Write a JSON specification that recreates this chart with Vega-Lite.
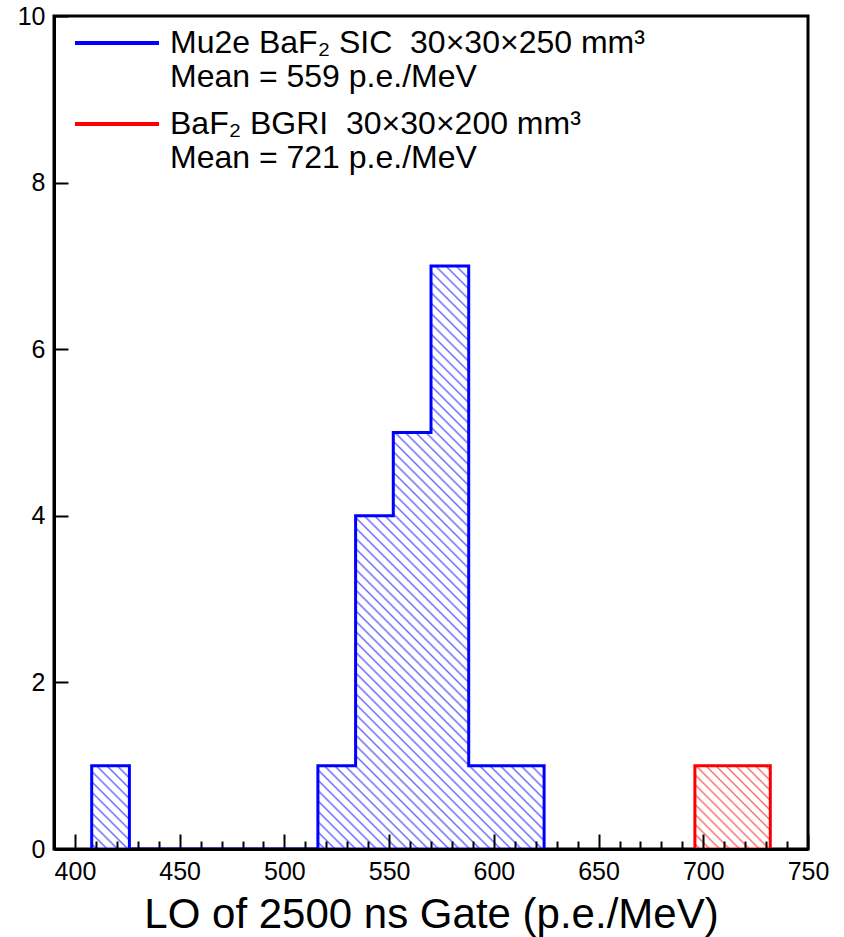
{
  "$schema": "https://vega.github.io/schema/vega-lite/v6.json",
  "width": 754,
  "height": 833,
  "autosize": {"type": "none"},
  "padding": {"left": 54, "top": 16, "right": 36, "bottom": 88},
  "background": "white",
  "config": {
    "font": "Liberation Sans",
    "view": {"stroke": "black", "strokeWidth": 3}
  },
  "data": {
    "values": [
      {"series": "Mu2e", "lo": 408, "hi": 426, "count": 1},
      {"series": "Mu2e", "lo": 426, "hi": 444, "count": 0},
      {"series": "Mu2e", "lo": 444, "hi": 462, "count": 0},
      {"series": "Mu2e", "lo": 462, "hi": 480, "count": 0},
      {"series": "Mu2e", "lo": 480, "hi": 498, "count": 0},
      {"series": "Mu2e", "lo": 498, "hi": 516, "count": 0},
      {"series": "Mu2e", "lo": 516, "hi": 534, "count": 1},
      {"series": "Mu2e", "lo": 534, "hi": 552, "count": 4},
      {"series": "Mu2e", "lo": 552, "hi": 570, "count": 5},
      {"series": "Mu2e", "lo": 570, "hi": 588, "count": 7},
      {"series": "Mu2e", "lo": 588, "hi": 606, "count": 1},
      {"series": "Mu2e", "lo": 606, "hi": 624, "count": 1},
      {"series": "BGRI", "lo": 696, "hi": 714, "count": 1},
      {"series": "BGRI", "lo": 714, "hi": 732, "count": 1}
    ]
  },
  "transform": [{"fold": ["lo", "hi"], "as": ["edge", "pos"]}],
  "encoding": {
    "y": {
      "field": "count", "type": "quantitative", "stack": null,
      "scale": {"domain": [0, 10], "nice": false, "zero": true},
      "axis": {
        "values": [0, 2, 4, 6, 8, 10], "tickSize": -14, "tickWidth": 2, "tickColor": "black",
        "labelFontSize": 25, "labelPadding": 23, "labelColor": "black", "labelFlush": false, "labelOverlap": false,
        "title": null, "grid": false, "domain": true, "domainWidth": 3, "domainColor": "black", "zindex": 1
      }
    },
    "stroke": {
      "field": "series", "type": "nominal",
      "scale": {"domain": ["Mu2e", "BGRI"], "range": ["#0000ff", "#ff0000"]},
      "legend": {
        "orient": "none", "legendX": 40, "legendY": 4, "title": null, "padding": 0,
        "symbolType": "M-2,0H2", "symbolSize": 1764, "symbolStrokeWidth": 4,
        "labelFontSize": 32, "labelOffset": 30, "labelLimit": 800, "rowPadding": 8, "labelColor": "black",
        "labelExpr": "datum.label == 'Mu2e' ? ['Mu2e BaF₂ SIC\u00a0 30×30×250 mm³', 'Mean = 559 p.e./MeV'] : ['BaF₂ BGRI\u00a0 30×30×200 mm³', 'Mean = 721 p.e./MeV']"
      }
    },
    "order": {"value": null}
  },
  "layer": [
    {
      "transform": [{"filter": "datum.series == 'Mu2e'"}],
      "mark": {
        "type": "area", "strokeWidth": 3, "strokeJoin": "miter", "interpolate": "linear",
        "fill": {
          "gradient": "linear", "x1": 0, "y1": 1, "x2": 0.8601, "y2": -0.1086,
          "stops": [
            {"offset":0.003,"color":"#fff"},{"offset":0.005,"color":"#6a6aff"},{"offset":0.007,"color":"#fff"},
            {"offset":0.013,"color":"#fff"},{"offset":0.015,"color":"#6a6aff"},{"offset":0.017,"color":"#fff"},
            {"offset":0.023,"color":"#fff"},{"offset":0.025,"color":"#6a6aff"},{"offset":0.027,"color":"#fff"},
            {"offset":0.033,"color":"#fff"},{"offset":0.035,"color":"#6a6aff"},{"offset":0.037,"color":"#fff"},
            {"offset":0.043,"color":"#fff"},{"offset":0.045,"color":"#6a6aff"},{"offset":0.047,"color":"#fff"},
            {"offset":0.053,"color":"#fff"},{"offset":0.055,"color":"#6a6aff"},{"offset":0.057,"color":"#fff"},
            {"offset":0.063,"color":"#fff"},{"offset":0.065,"color":"#6a6aff"},{"offset":0.067,"color":"#fff"},
            {"offset":0.073,"color":"#fff"},{"offset":0.075,"color":"#6a6aff"},{"offset":0.077,"color":"#fff"},
            {"offset":0.083,"color":"#fff"},{"offset":0.085,"color":"#6a6aff"},{"offset":0.087,"color":"#fff"},
            {"offset":0.093,"color":"#fff"},{"offset":0.095,"color":"#6a6aff"},{"offset":0.097,"color":"#fff"},
            {"offset":0.103,"color":"#fff"},{"offset":0.105,"color":"#6a6aff"},{"offset":0.107,"color":"#fff"},
            {"offset":0.113,"color":"#fff"},{"offset":0.115,"color":"#6a6aff"},{"offset":0.117,"color":"#fff"},
            {"offset":0.123,"color":"#fff"},{"offset":0.125,"color":"#6a6aff"},{"offset":0.127,"color":"#fff"},
            {"offset":0.133,"color":"#fff"},{"offset":0.135,"color":"#6a6aff"},{"offset":0.137,"color":"#fff"},
            {"offset":0.143,"color":"#fff"},{"offset":0.145,"color":"#6a6aff"},{"offset":0.147,"color":"#fff"},
            {"offset":0.153,"color":"#fff"},{"offset":0.155,"color":"#6a6aff"},{"offset":0.157,"color":"#fff"},
            {"offset":0.163,"color":"#fff"},{"offset":0.165,"color":"#6a6aff"},{"offset":0.167,"color":"#fff"},
            {"offset":0.173,"color":"#fff"},{"offset":0.175,"color":"#6a6aff"},{"offset":0.177,"color":"#fff"},
            {"offset":0.183,"color":"#fff"},{"offset":0.185,"color":"#6a6aff"},{"offset":0.187,"color":"#fff"},
            {"offset":0.193,"color":"#fff"},{"offset":0.195,"color":"#6a6aff"},{"offset":0.197,"color":"#fff"},
            {"offset":0.203,"color":"#fff"},{"offset":0.205,"color":"#6a6aff"},{"offset":0.207,"color":"#fff"},
            {"offset":0.213,"color":"#fff"},{"offset":0.215,"color":"#6a6aff"},{"offset":0.217,"color":"#fff"},
            {"offset":0.223,"color":"#fff"},{"offset":0.225,"color":"#6a6aff"},{"offset":0.227,"color":"#fff"},
            {"offset":0.233,"color":"#fff"},{"offset":0.235,"color":"#6a6aff"},{"offset":0.237,"color":"#fff"},
            {"offset":0.243,"color":"#fff"},{"offset":0.245,"color":"#6a6aff"},{"offset":0.247,"color":"#fff"},
            {"offset":0.253,"color":"#fff"},{"offset":0.255,"color":"#6a6aff"},{"offset":0.257,"color":"#fff"},
            {"offset":0.263,"color":"#fff"},{"offset":0.265,"color":"#6a6aff"},{"offset":0.267,"color":"#fff"},
            {"offset":0.273,"color":"#fff"},{"offset":0.275,"color":"#6a6aff"},{"offset":0.277,"color":"#fff"},
            {"offset":0.283,"color":"#fff"},{"offset":0.285,"color":"#6a6aff"},{"offset":0.287,"color":"#fff"},
            {"offset":0.293,"color":"#fff"},{"offset":0.295,"color":"#6a6aff"},{"offset":0.297,"color":"#fff"},
            {"offset":0.303,"color":"#fff"},{"offset":0.305,"color":"#6a6aff"},{"offset":0.307,"color":"#fff"},
            {"offset":0.313,"color":"#fff"},{"offset":0.315,"color":"#6a6aff"},{"offset":0.317,"color":"#fff"},
            {"offset":0.323,"color":"#fff"},{"offset":0.325,"color":"#6a6aff"},{"offset":0.327,"color":"#fff"},
            {"offset":0.333,"color":"#fff"},{"offset":0.335,"color":"#6a6aff"},{"offset":0.337,"color":"#fff"},
            {"offset":0.343,"color":"#fff"},{"offset":0.345,"color":"#6a6aff"},{"offset":0.347,"color":"#fff"},
            {"offset":0.353,"color":"#fff"},{"offset":0.355,"color":"#6a6aff"},{"offset":0.357,"color":"#fff"},
            {"offset":0.363,"color":"#fff"},{"offset":0.365,"color":"#6a6aff"},{"offset":0.367,"color":"#fff"},
            {"offset":0.373,"color":"#fff"},{"offset":0.375,"color":"#6a6aff"},{"offset":0.377,"color":"#fff"},
            {"offset":0.383,"color":"#fff"},{"offset":0.385,"color":"#6a6aff"},{"offset":0.387,"color":"#fff"},
            {"offset":0.393,"color":"#fff"},{"offset":0.395,"color":"#6a6aff"},{"offset":0.397,"color":"#fff"},
            {"offset":0.403,"color":"#fff"},{"offset":0.405,"color":"#6a6aff"},{"offset":0.407,"color":"#fff"},
            {"offset":0.413,"color":"#fff"},{"offset":0.415,"color":"#6a6aff"},{"offset":0.417,"color":"#fff"},
            {"offset":0.423,"color":"#fff"},{"offset":0.425,"color":"#6a6aff"},{"offset":0.427,"color":"#fff"},
            {"offset":0.433,"color":"#fff"},{"offset":0.435,"color":"#6a6aff"},{"offset":0.437,"color":"#fff"},
            {"offset":0.443,"color":"#fff"},{"offset":0.445,"color":"#6a6aff"},{"offset":0.447,"color":"#fff"},
            {"offset":0.453,"color":"#fff"},{"offset":0.455,"color":"#6a6aff"},{"offset":0.457,"color":"#fff"},
            {"offset":0.463,"color":"#fff"},{"offset":0.465,"color":"#6a6aff"},{"offset":0.467,"color":"#fff"},
            {"offset":0.473,"color":"#fff"},{"offset":0.475,"color":"#6a6aff"},{"offset":0.477,"color":"#fff"},
            {"offset":0.483,"color":"#fff"},{"offset":0.485,"color":"#6a6aff"},{"offset":0.487,"color":"#fff"},
            {"offset":0.493,"color":"#fff"},{"offset":0.495,"color":"#6a6aff"},{"offset":0.497,"color":"#fff"},
            {"offset":0.503,"color":"#fff"},{"offset":0.505,"color":"#6a6aff"},{"offset":0.507,"color":"#fff"},
            {"offset":0.513,"color":"#fff"},{"offset":0.515,"color":"#6a6aff"},{"offset":0.517,"color":"#fff"},
            {"offset":0.523,"color":"#fff"},{"offset":0.525,"color":"#6a6aff"},{"offset":0.527,"color":"#fff"},
            {"offset":0.533,"color":"#fff"},{"offset":0.535,"color":"#6a6aff"},{"offset":0.537,"color":"#fff"},
            {"offset":0.543,"color":"#fff"},{"offset":0.545,"color":"#6a6aff"},{"offset":0.547,"color":"#fff"},
            {"offset":0.553,"color":"#fff"},{"offset":0.555,"color":"#6a6aff"},{"offset":0.557,"color":"#fff"},
            {"offset":0.563,"color":"#fff"},{"offset":0.565,"color":"#6a6aff"},{"offset":0.567,"color":"#fff"},
            {"offset":0.573,"color":"#fff"},{"offset":0.575,"color":"#6a6aff"},{"offset":0.577,"color":"#fff"},
            {"offset":0.583,"color":"#fff"},{"offset":0.585,"color":"#6a6aff"},{"offset":0.587,"color":"#fff"},
            {"offset":0.593,"color":"#fff"},{"offset":0.595,"color":"#6a6aff"},{"offset":0.597,"color":"#fff"},
            {"offset":0.603,"color":"#fff"},{"offset":0.605,"color":"#6a6aff"},{"offset":0.607,"color":"#fff"},
            {"offset":0.613,"color":"#fff"},{"offset":0.615,"color":"#6a6aff"},{"offset":0.617,"color":"#fff"},
            {"offset":0.623,"color":"#fff"},{"offset":0.625,"color":"#6a6aff"},{"offset":0.627,"color":"#fff"},
            {"offset":0.633,"color":"#fff"},{"offset":0.635,"color":"#6a6aff"},{"offset":0.637,"color":"#fff"},
            {"offset":0.643,"color":"#fff"},{"offset":0.645,"color":"#6a6aff"},{"offset":0.647,"color":"#fff"},
            {"offset":0.653,"color":"#fff"},{"offset":0.655,"color":"#6a6aff"},{"offset":0.657,"color":"#fff"},
            {"offset":0.663,"color":"#fff"},{"offset":0.665,"color":"#6a6aff"},{"offset":0.667,"color":"#fff"},
            {"offset":0.673,"color":"#fff"},{"offset":0.675,"color":"#6a6aff"},{"offset":0.677,"color":"#fff"},
            {"offset":0.683,"color":"#fff"},{"offset":0.685,"color":"#6a6aff"},{"offset":0.687,"color":"#fff"},
            {"offset":0.693,"color":"#fff"},{"offset":0.695,"color":"#6a6aff"},{"offset":0.697,"color":"#fff"},
            {"offset":0.703,"color":"#fff"},{"offset":0.705,"color":"#6a6aff"},{"offset":0.707,"color":"#fff"},
            {"offset":0.713,"color":"#fff"},{"offset":0.715,"color":"#6a6aff"},{"offset":0.717,"color":"#fff"},
            {"offset":0.723,"color":"#fff"},{"offset":0.725,"color":"#6a6aff"},{"offset":0.727,"color":"#fff"},
            {"offset":0.733,"color":"#fff"},{"offset":0.735,"color":"#6a6aff"},{"offset":0.737,"color":"#fff"},
            {"offset":0.743,"color":"#fff"},{"offset":0.745,"color":"#6a6aff"},{"offset":0.747,"color":"#fff"},
            {"offset":0.753,"color":"#fff"},{"offset":0.755,"color":"#6a6aff"},{"offset":0.757,"color":"#fff"},
            {"offset":0.763,"color":"#fff"},{"offset":0.765,"color":"#6a6aff"},{"offset":0.767,"color":"#fff"},
            {"offset":0.773,"color":"#fff"},{"offset":0.775,"color":"#6a6aff"},{"offset":0.777,"color":"#fff"},
            {"offset":0.783,"color":"#fff"},{"offset":0.785,"color":"#6a6aff"},{"offset":0.787,"color":"#fff"},
            {"offset":0.793,"color":"#fff"},{"offset":0.795,"color":"#6a6aff"},{"offset":0.797,"color":"#fff"},
            {"offset":0.803,"color":"#fff"},{"offset":0.805,"color":"#6a6aff"},{"offset":0.807,"color":"#fff"},
            {"offset":0.813,"color":"#fff"},{"offset":0.815,"color":"#6a6aff"},{"offset":0.817,"color":"#fff"},
            {"offset":0.823,"color":"#fff"},{"offset":0.825,"color":"#6a6aff"},{"offset":0.827,"color":"#fff"},
            {"offset":0.833,"color":"#fff"},{"offset":0.835,"color":"#6a6aff"},{"offset":0.837,"color":"#fff"},
            {"offset":0.843,"color":"#fff"},{"offset":0.845,"color":"#6a6aff"},{"offset":0.847,"color":"#fff"},
            {"offset":0.853,"color":"#fff"},{"offset":0.855,"color":"#6a6aff"},{"offset":0.857,"color":"#fff"},
            {"offset":0.863,"color":"#fff"},{"offset":0.865,"color":"#6a6aff"},{"offset":0.867,"color":"#fff"},
            {"offset":0.873,"color":"#fff"},{"offset":0.875,"color":"#6a6aff"},{"offset":0.877,"color":"#fff"},
            {"offset":0.883,"color":"#fff"},{"offset":0.885,"color":"#6a6aff"},{"offset":0.887,"color":"#fff"},
            {"offset":0.893,"color":"#fff"},{"offset":0.895,"color":"#6a6aff"},{"offset":0.897,"color":"#fff"},
            {"offset":0.903,"color":"#fff"},{"offset":0.905,"color":"#6a6aff"},{"offset":0.907,"color":"#fff"},
            {"offset":0.913,"color":"#fff"},{"offset":0.915,"color":"#6a6aff"},{"offset":0.917,"color":"#fff"},
            {"offset":0.923,"color":"#fff"},{"offset":0.925,"color":"#6a6aff"},{"offset":0.927,"color":"#fff"},
            {"offset":0.933,"color":"#fff"},{"offset":0.935,"color":"#6a6aff"},{"offset":0.937,"color":"#fff"},
            {"offset":0.943,"color":"#fff"},{"offset":0.945,"color":"#6a6aff"},{"offset":0.947,"color":"#fff"},
            {"offset":0.953,"color":"#fff"},{"offset":0.955,"color":"#6a6aff"},{"offset":0.957,"color":"#fff"},
            {"offset":0.963,"color":"#fff"},{"offset":0.965,"color":"#6a6aff"},{"offset":0.967,"color":"#fff"},
            {"offset":0.973,"color":"#fff"},{"offset":0.975,"color":"#6a6aff"},{"offset":0.977,"color":"#fff"},
            {"offset":0.983,"color":"#fff"},{"offset":0.985,"color":"#6a6aff"},{"offset":0.987,"color":"#fff"},
            {"offset":0.993,"color":"#fff"},{"offset":0.995,"color":"#6a6aff"},{"offset":0.997,"color":"#fff"}
          ]
        }
      },
      "encoding": {
        "x": {
          "field": "pos", "type": "quantitative",
          "scale": {"domain": [390, 750], "nice": false, "zero": false},
          "axis": {
            "orient": "bottom", "values": [400, 450, 500, 550, 600, 650, 700, 750],
            "tickSize": -15, "tickWidth": 2, "tickColor": "black",
            "labelFontSize": 25, "labelPadding": 25, "labelColor": "black", "labelFlush": false, "labelOverlap": false,
            "title": "LO of 2500 ns Gate (p.e./MeV)", "titleFontSize": 42, "titleFontWeight": "normal", "titleColor": "black", "titlePadding": 10,
            "grid": false, "domain": true, "domainWidth": 3, "domainColor": "black", "zindex": 1
          }
        }
      }
    },
    {
      "transform": [{"filter": "datum.series == 'BGRI'"}],
      "mark": {
        "type": "area", "strokeWidth": 3, "strokeJoin": "miter", "interpolate": "linear",
        "fill": {
          "gradient": "linear", "x1": 0, "y1": 1, "x2": 0.9479, "y2": -0.0472,
          "stops": [
            {"offset":0.01875,"color":"#fff"},{"offset":0.03125,"color":"#ff6a6a"},{"offset":0.04375,"color":"#fff"},
            {"offset":0.08125,"color":"#fff"},{"offset":0.09375,"color":"#ff6a6a"},{"offset":0.10625,"color":"#fff"},
            {"offset":0.14375,"color":"#fff"},{"offset":0.15625,"color":"#ff6a6a"},{"offset":0.16875,"color":"#fff"},
            {"offset":0.20625,"color":"#fff"},{"offset":0.21875,"color":"#ff6a6a"},{"offset":0.23125,"color":"#fff"},
            {"offset":0.26875,"color":"#fff"},{"offset":0.28125,"color":"#ff6a6a"},{"offset":0.29375,"color":"#fff"},
            {"offset":0.33125,"color":"#fff"},{"offset":0.34375,"color":"#ff6a6a"},{"offset":0.35625,"color":"#fff"},
            {"offset":0.39375,"color":"#fff"},{"offset":0.40625,"color":"#ff6a6a"},{"offset":0.41875,"color":"#fff"},
            {"offset":0.45625,"color":"#fff"},{"offset":0.46875,"color":"#ff6a6a"},{"offset":0.48125,"color":"#fff"},
            {"offset":0.51875,"color":"#fff"},{"offset":0.53125,"color":"#ff6a6a"},{"offset":0.54375,"color":"#fff"},
            {"offset":0.58125,"color":"#fff"},{"offset":0.59375,"color":"#ff6a6a"},{"offset":0.60625,"color":"#fff"},
            {"offset":0.64375,"color":"#fff"},{"offset":0.65625,"color":"#ff6a6a"},{"offset":0.66875,"color":"#fff"},
            {"offset":0.70625,"color":"#fff"},{"offset":0.71875,"color":"#ff6a6a"},{"offset":0.73125,"color":"#fff"},
            {"offset":0.76875,"color":"#fff"},{"offset":0.78125,"color":"#ff6a6a"},{"offset":0.79375,"color":"#fff"},
            {"offset":0.83125,"color":"#fff"},{"offset":0.84375,"color":"#ff6a6a"},{"offset":0.85625,"color":"#fff"},
            {"offset":0.89375,"color":"#fff"},{"offset":0.90625,"color":"#ff6a6a"},{"offset":0.91875,"color":"#fff"},
            {"offset":0.95625,"color":"#fff"},{"offset":0.96875,"color":"#ff6a6a"},{"offset":0.98125,"color":"#fff"}
          ]
        }
      },
      "encoding": {
        "x": {
          "field": "pos", "type": "quantitative",
          "scale": {"domain": [390, 750], "nice": false, "zero": false},
          "axis": {
            "orient": "bottom",
            "values": [410, 420, 430, 440, 460, 470, 480, 490, 510, 520, 530, 540, 560, 570, 580, 590, 610, 620, 630, 640, 660, 670, 680, 690, 710, 720, 730, 740],
            "tickSize": -8, "tickWidth": 2, "tickColor": "black",
            "labels": false, "title": null, "grid": false, "domain": false, "zindex": 1
          }
        }
      }
    }
  ],
  "resolve": {"axis": {"x": "independent"}}
}
